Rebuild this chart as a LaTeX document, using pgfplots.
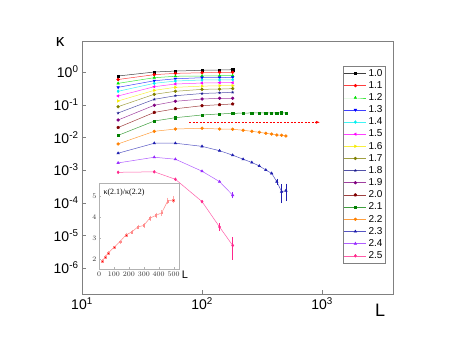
\documentclass[border=0pt]{standalone}
\usepackage{fontspec}
\setmainfont{Liberation Sans}
\newfontfamily\serif{Liberation Serif}
\usepackage{pgfplots}
\pgfplotsset{compat=1.18}
\usetikzlibrary{arrows.meta}

\definecolor{c10}{RGB}{0,0,0}
\definecolor{c11}{RGB}{255,0,0}
\definecolor{c12}{RGB}{0,225,0}
\definecolor{c13}{RGB}{0,0,255}
\definecolor{c14}{RGB}{0,240,240}
\definecolor{c15}{RGB}{255,0,255}
\definecolor{c16}{RGB}{245,235,0}
\definecolor{c17}{RGB}{128,128,0}
\definecolor{c18}{RGB}{25,25,140}
\definecolor{c19}{RGB}{128,0,128}
\definecolor{c20}{RGB}{128,0,0}
\definecolor{c21}{RGB}{0,128,0}
\definecolor{c22}{RGB}{255,128,0}
\definecolor{c23}{RGB}{30,30,175}
\definecolor{c24}{RGB}{150,40,255}
\definecolor{c25}{RGB}{255,40,140}

\pgfplotsset{
  ser/.style n args={3}{color=#1, draw=#1!75, mark=#2, mark size=1.4pt,
    mark options={solid, fill=#1, draw=#1, #3}, line width=0.5pt},
  ebar/.style={error bars/.cd, y dir=both, y explicit, error bar style={#1, line width=0.5pt}, error mark options={#1, mark size=1.5pt}},
}

\begin{document}
\begin{tikzpicture}[x=1pt,y=1pt]
\path[use as bounding box] (0,0) rectangle (457,353);
\begin{axis}[
  at={(82pt,59pt)}, anchor=south west,
  scale only axis, width=311pt, height=253pt,
  xmode=log, ymode=log, log basis x=10, log basis y=10,
  xmin=10, xmax=3900, ymin=1.6e-7, ymax=8.9,
  axis line style={gray, line width=0.7pt},
  tick style={gray}, major tick length=4pt, minor tick length=2pt,
  tick pos=left,
  xtick={10,100,1000},
  xticklabels={10\textsuperscript{1},10\textsuperscript{2},10\textsuperscript{3}},
  ytick={1e-6,1e-5,1e-4,1e-3,1e-2,1e-1,1},
  yticklabels={10\textsuperscript{-6},10\textsuperscript{-5},10\textsuperscript{-4},10\textsuperscript{-3},10\textsuperscript{-2},10\textsuperscript{-1},10\textsuperscript{0}},
  tick label style={font=\fontsize{14}{14}\selectfont},
  legend cell align=left,
  legend style={at={(axis description cs:0.839,0.901)}, anchor=north west,
    draw=gray, font=\fontsize{10}{11}\selectfont, inner sep=1pt, row sep=-0.3pt},
  legend image code/.code={\draw[mark repeat=2,mark phase=2,#1] plot coordinates {(0pt,0pt) (11pt,0pt) (22pt,0pt)};},
]
\addplot[ser={c10}{square*}{scale=0.8}] coordinates {(20,0.755)(40,1.0)(60,1.07)(100,1.13)(140,1.15)(180,1.18)};
\addlegendentry{1.0}
\addplot[ser={c11}{*}{}] coordinates {(20,0.59)(40,0.83)(60,0.91)(100,0.95)(140,0.98)(180,0.98)};
\addlegendentry{1.1}
\addplot[ser={c12}{triangle*}{}] coordinates {(20,0.45)(40,0.67)(60,0.74)(100,0.755)(140,0.77)(180,0.77)};
\addlegendentry{1.2}
\addplot[ser={c13}{triangle*}{rotate=180}] coordinates {(20,0.34)(40,0.54)(60,0.62)(100,0.67)(140,0.67)(180,0.69)};
\addlegendentry{1.3}
\addplot[ser={c14}{diamond*}{}] coordinates {(20,0.257)(40,0.45)(60,0.53)(100,0.57)(140,0.57)(180,0.58)};
\addlegendentry{1.4}
\addplot[ser={c15}{triangle*}{rotate=90}] coordinates {(20,0.185)(40,0.355)(60,0.43)(100,0.46)(140,0.47)(180,0.47)};
\addlegendentry{1.5}
\addplot[ser={c16}{triangle*}{rotate=-90}] coordinates {(20,0.13)(40,0.275)(60,0.34)(100,0.37)(140,0.38)(180,0.38)};
\addlegendentry{1.6}
\addplot[ser={c17}{*}{}] coordinates {(20,0.087)(40,0.208)(60,0.257)(100,0.295)(140,0.30)(180,0.31)};
\addlegendentry{1.7}
\addplot[ser={c18}{star}{}] coordinates {(20,0.0557)(40,0.146)(60,0.188)(100,0.22)(140,0.23)(180,0.24)};
\addlegendentry{1.8}
\addplot[ser={c19}{*}{}] coordinates {(20,0.034)(40,0.096)(60,0.127)(100,0.149)(140,0.157)(180,0.157)};
\addlegendentry{1.9}
\addplot[ser={c20}{pentagon*}{}] coordinates {(20,0.02)(40,0.058)(60,0.075)(100,0.093)(140,0.1)(180,0.105)};
\addlegendentry{2.0}
\addplot[ser={c21}{square*}{scale=0.8}] coordinates {(20,0.0115)(40,0.0316)(60,0.040)(100,0.0484)(140,0.052)(180,0.0544)(220,0.055)(260,0.056)(300,0.056)(340,0.056)(380,0.056)(420,0.056)(460,0.057)(500,0.056)};
\addlegendentry{2.1}
\addplot[ser={c22}{*}{}] coordinates {(20,0.0063)(40,0.0153)(60,0.018)(100,0.019)(140,0.018)(180,0.0177)(220,0.0165)(260,0.0153)(300,0.0143)(340,0.0133)(380,0.0126)(420,0.0118)(460,0.0116)(500,0.011)};
\addlegendentry{2.2}
\addplot[ser={c23}{triangle*}{}, ebar=c23] coordinates {(20,0.00327)(40,0.0066)(60,0.0066)(100,0.0053)(140,0.0039)(180,0.00285)(220,0.00214)(260,0.0017)(300,0.00133)(340,0.00100)(380,0.00079)(420,0.00044) +- (0,0.00005)(460,0.000218) +- (0,0.00011)(500,0.000234) +- (0,0.00011)};
\addlegendentry{2.3}
\addplot[ser={c24}{triangle*}{}, ebar=c24] coordinates {(20,0.00165)(40,0.00246)(60,0.00214)(100,0.00092)(140,0.00044)(180,0.00017) +- (0,0.00002)};
\addlegendentry{2.4}
\addplot[ser={c25}{diamond*}{}, ebar=c25] coordinates {(20,0.00085)(40,0.00088)(60,0.00052)(100,0.000108)(140,0.000018) +- (0,0.000003)(180,0.0000049) +- (0,0.0000029)};
\addlegendentry{2.5}
\draw[red, line width=0.5pt, dash pattern=on 2pt off 1.5pt, -{Latex[length=4pt,width=3pt]}] (axis cs:78,0.029) -- (axis cs:960,0.029);
\end{axis}
\node[font=\fontsize{17}{17}\selectfont] at (60,311) {κ};
\node[font=\fontsize{18}{18}\selectfont] at (380,43) {L};

\begin{axis}[
  at={(99pt,83.7pt)}, anchor=south west,
  scale only axis, width=79.7pt, height=85.6pt,
  xmin=0, xmax=534, ymin=1.5, ymax=5.62,
  xtick={0,100,200,300,400,500}, ytick={2,3,4,5},
  tick pos=left,
  axis line style={gray!60}, tick style={gray!60},
  major tick length=2pt,
  tick label style={font=\fontsize{7}{7}\selectfont, text=black!80},
  xticklabel style={yshift=1pt}, yticklabel style={xshift=1pt},
  axis background/.style={fill=white},
]
\addplot[color=red, draw=red!45, mark=square*, mark size=0.9pt, line width=0.5pt,
  error bars/.cd, y dir=both, y explicit, error bar style={red!35}, error mark options={red!35, mark size=1pt}]
  coordinates {(20,1.89) +- (0,0.05)(40,2.08) +- (0,0.04)(60,2.28) +- (0,0.04)(100,2.55) +- (0,0.04)(140,2.83) +- (0,0.05)(180,3.15) +- (0,0.05)(220,3.30) +- (0,0.05)(260,3.54) +- (0,0.06)(300,3.61) +- (0,0.07)(340,3.96) +- (0,0.08)(380,4.09) +- (0,0.09)(420,4.22) +- (0,0.09)(460,4.79) +- (0,0.11)(500,4.84) +- (0,0.12)};
\end{axis}
\node[font=\serif\fontsize{8}{8}\selectfont] at (124,160) {κ(2.1)/κ(2.2)};
\node[font=\fontsize{11}{11}\selectfont] at (185,78) {L};
\end{tikzpicture}
\end{document}
